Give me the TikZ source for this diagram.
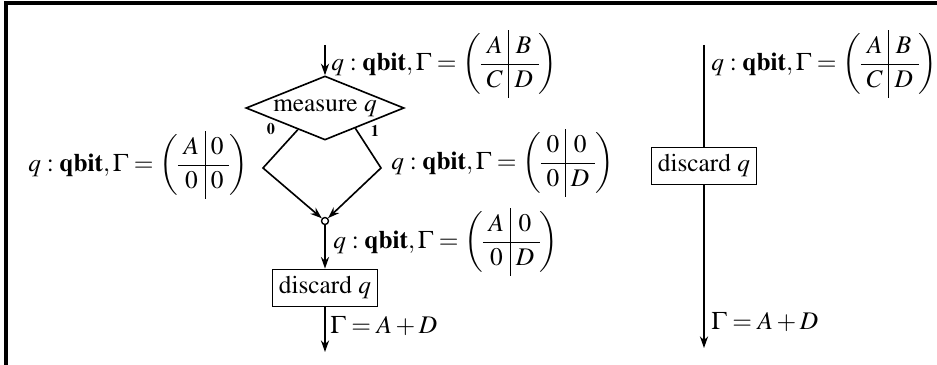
\documentclass[tikz,border=0pt]{standalone}
\usepackage[T1]{fontenc}
\usepackage{mathptmx}
\usetikzlibrary{arrows.meta,shapes.geometric,calc}
\newcommand{\qmat}[4]{\left(\renewcommand{\arraystretch}{1.1}\setlength{\arraycolsep}{2.5pt}\begin{array}{c|c}#1&#2\\\hline #3&#4\end{array}\right)}
\newcommand{\qlab}[4]{$q:\mathbf{qbit},\Gamma=\qmat{#1}{#2}{#3}{#4}$}
\begin{document}
\begin{tikzpicture}[x=0.43pt,y=-0.43pt,
  font=\fontsize{10.9}{13}\selectfont,
  flow/.style={line width=0.7pt},
  arr/.style={flow,-{Stealth[length=5pt,width=3.5pt]}},
  box/.style={draw,line width=0.7pt,inner sep=2pt,minimum width=45pt,minimum height=16pt},
  lab/.style={anchor=west,inner sep=0pt},
  bit/.style={inner sep=0pt,font=\scriptsize\bfseries}]
\useasboundingbox (0,0) rectangle (937,365);
\draw[line width=1.3pt] (937,3) -- (6,3) -- (6,365);
% left flow
\coordinate (ltop) at (325,45);
\node[diamond,draw,line width=0.7pt,aspect=2.47,inner sep=0pt,minimum width=68pt,minimum height=27.5pt] (meas) at (325,108) {measure $q$};
\draw[arr] (ltop) -- (meas.north);
\coordinate (l0) at ($(meas.west)!0.66!(meas.south)$);
\coordinate (r0) at ($(meas.east)!0.62!(meas.south)$);
\coordinate (lb) at (263,168);
\coordinate (rb) at (381,168);
\node[circle,draw,line width=0.6pt,inner sep=0pt,minimum size=3pt] (join) at (325,221) {};
\draw[arr] (l0) -- (lb) -- (join);
\draw[arr] (r0) -- (rb) -- (join);
\node[box] (disc) at (325,288) {discard $q$};
\draw[arr] (join) -- (disc);
\coordinate (lend) at (325,352);
\draw[arr] (disc) -- (lend);
\node[bit] (b0) at (271,129) {0};
\node[bit] (b1) at (375,131) {1};
\node[lab] (t1) at (331,64) {\qlab{A}{B}{C}{D}};
\node[lab] (t2) at (28,165) {\qlab{A}{0}{0}{0}};
\node[lab] (t3) at (391,163) {\qlab{0}{0}{0}{D}};
\node[lab] (t4) at (333,242) {\qlab{A}{0}{0}{D}};
\node[lab] (t5) at (330,326) {$\Gamma=A+D$};
% right flow
\coordinate (rtop) at (704,45);
\node[box] (disc2) at (704,166) {discard $q$};
\coordinate (rend) at (704,348);
\draw[flow] (rtop) -- (disc2);
\draw[arr] (disc2) -- (rend);
\node[lab] (t6) at (711,64) {\qlab{A}{B}{C}{D}};
\node[lab] (t7) at (711,322) {$\Gamma=A+D$};
\end{tikzpicture}
\end{document}
